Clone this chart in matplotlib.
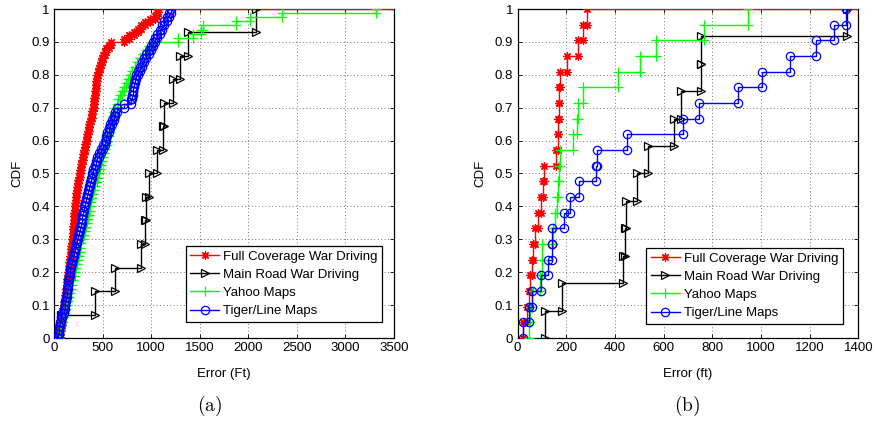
import numpy as np
import matplotlib
matplotlib.use("Agg")
import matplotlib.pyplot as plt

plt.rcParams['font.family'] = ['Liberation Sans', 'DejaVu Sans']
plt.rcParams['mathtext.fontset'] = 'cm'

series_names = ["Full Coverage War Driving", "Main Road War Driving", "Yahoo Maps", "Tiger/Line Maps"]

# ---- (a) errors in ft ----
a_full = [48, 60, 68, 74, 80, 84, 88, 92, 96, 100,
          105, 110, 114, 119, 125, 129, 133, 137, 142, 147,
          151, 155, 159, 164, 168, 172, 176, 180, 184, 188,
          191, 194, 197, 200, 203, 206, 208, 211, 213, 216,
          219, 223, 227, 231, 235, 240, 246, 252, 258, 265,
          271, 277, 283, 289, 295, 301, 308, 314, 321, 328,
          335, 343, 350, 358, 365, 372, 380, 388, 396, 403,
          407, 412, 416, 420, 425, 429, 433, 437, 441, 445,
          453, 462, 472, 482, 493, 505, 520, 538, 562, 590,
          725, 770, 820, 860, 900, 940, 990, 1035, 1060, 1072]
a_main = [75, 418, 623, 898, 932, 949, 975, 1062, 1125, 1130, 1226, 1302, 1381, 2083]
a_yahoo = [50, 58, 66, 75, 88, 100, 113, 127, 135, 144, 152, 161,
           174, 187, 200, 213, 221, 230, 238, 247, 255, 264, 272, 281,
           294, 306, 319, 332, 341, 350, 358, 367, 375, 384, 392, 401,
           414, 426, 439, 452, 463, 474, 485, 496, 507, 518, 530, 541,
           552, 563, 573, 584, 595, 605, 616, 627, 644, 661, 679, 696,
           717, 738, 760, 781, 807, 833, 858, 884, 914, 944, 974, 1004,
           1278, 1432, 1518, 1535, 1878, 2014, 2350, 3317]
a_tiger = [45, 50, 55, 60, 72, 85, 98, 110, 116, 122, 129, 135,
           141, 148, 154, 160, 169, 178, 186, 195, 205, 215, 225, 235,
           245, 255, 265, 275, 284, 292, 301, 310, 320, 330, 340, 350,
           361, 372, 384, 395, 406, 418, 429, 440, 460, 480, 500, 520,
           535, 550, 565, 580, 598, 615, 633, 650, 720, 790, 800, 810,
           817, 825, 832, 840, 862, 885, 907, 930, 952, 975, 997, 1020,
           1042, 1065, 1087, 1110, 1135, 1160, 1185, 1209]

# ---- (b) errors in ft ----
b_full = [24, 38, 47, 51, 58, 65, 72, 85, 95, 106, 110, 158, 165, 168, 170, 172, 176, 202, 250, 270, 287]
b_main = [113, 181, 435, 443, 445, 489, 537, 644, 670, 752, 753, 1354]
b_yahoo = [47, 52, 58, 92, 100, 100, 147, 152, 161, 166, 171, 175, 226, 245, 250, 267, 414, 503, 569, 765, 947]
b_tiger = [24, 47, 58, 96, 127, 140, 140, 192, 215, 252, 322, 325, 448, 681, 746, 907, 1005, 1119, 1225, 1299, 1351]

a_xticks = [0, 500, 1000, 1500, 2000, 2500, 3000, 3500]
b_xticks = [0, 200, 400, 600, 800, 1000, 1200, 1400]
yticks = [0, 0.1, 0.2, 0.3, 0.4, 0.5, 0.6, 0.7, 0.8, 0.9, 1]
ytick_labels = ["0", "0.1", "0.2", "0.3", "0.4", "0.5", "0.6", "0.7", "0.8", "0.9", "1"]

styles = [
    dict(color=(1, 0, 0), marker=(8, 2, 0), mfc=(1, 0, 0), ms=6),
    dict(color=(0, 0, 0), marker='>', mfc='none', ms=6),
    dict(color=(0, 1, 0), marker='+', mfc=(0, 1, 0), ms=7),
    dict(color=(0, 0, 1), marker='o', mfc='none', ms=6),
]

FS = 9.5


def stairs(vals):
    v = np.sort(np.asarray(vals, dtype=float))
    n = len(v)
    levels = np.arange(1, n + 1) / n
    xs = np.repeat(v, 2)
    ys = np.empty(2 * n)
    ys[0::2] = np.concatenate([[0.0], levels[:-1]])
    ys[1::2] = levels
    return xs, ys


fig = plt.figure(figsize=(8.75, 4.23), dpi=100)
W, H = 875.0, 423.0


def setup(ax, data, xticks, xlabel, leg_anchor):
    xmax = xticks[-1]
    handles = []
    for i, (vals, st) in enumerate(zip(data, styles)):
        xs, ys = stairs(vals)
        h, = ax.plot(xs, ys, '-', color=st['color'], lw=1.0, marker=st['marker'],
                     markersize=st['ms'], markerfacecolor=st['mfc'],
                     markeredgecolor=st['color'], markeredgewidth=0.9,
                     label=series_names[i], zorder=3 + i)
        if i == 0:
            ax.plot([xs[-1], xmax], [1, 1], '-', color=st['color'], lw=1.0, zorder=3)
        handles.append(h)
    ax.set_xlim(0, xmax)
    ax.set_ylim(0, 1)
    ax.set_xticks(xticks)
    ax.set_xticklabels([str(t) for t in xticks])
    ax.set_yticks(yticks)
    ax.set_yticklabels(ytick_labels)
    ax.grid(True, linestyle=(0, (1, 2.5)), color='0.45', lw=0.7)
    ax.tick_params(direction='in', length=3, width=0.6, top=True, right=True,
                   labelsize=FS, pad=3)
    for s in ax.spines.values():
        s.set_linewidth(0.9)
    ax.set_xlabel(xlabel, fontsize=FS, labelpad=10)
    ax.set_ylabel("CDF", fontsize=FS, labelpad=6)
    leg = ax.legend(handles=handles, loc='lower right', bbox_to_anchor=leg_anchor,
                    borderaxespad=0, fontsize=FS, numpoints=1, fancybox=False,
                    framealpha=1, edgecolor='black', handlelength=2.2,
                    handletextpad=0.3, labelspacing=0.45, borderpad=0.35)
    leg.get_frame().set_linewidth(0.9)
    leg.set_zorder(10)


ax1 = fig.add_axes([54 / W, 1 - 338 / H, (394 - 54) / W, 329 / H])
ax2 = fig.add_axes([517.5 / W, 1 - 338 / H, (858.4 - 517.5) / W, 329 / H])

setup(ax1, [a_full, a_main, a_yahoo, a_tiger], a_xticks, "Error (Ft)", (0.966, 0.049))
setup(ax2, [b_full, b_main, b_yahoo, b_tiger], b_xticks, "Error (ft)", (0.955, 0.043))

fig.text(210 / W, 1 - 406 / H, r'$\mathrm{(a)}$', ha='center', va='center', fontsize=14)
fig.text(687 / W, 1 - 406 / H, r'$\mathrm{(b)}$', ha='center', va='center', fontsize=14)

fig.savefig("out.png", dpi=100)
